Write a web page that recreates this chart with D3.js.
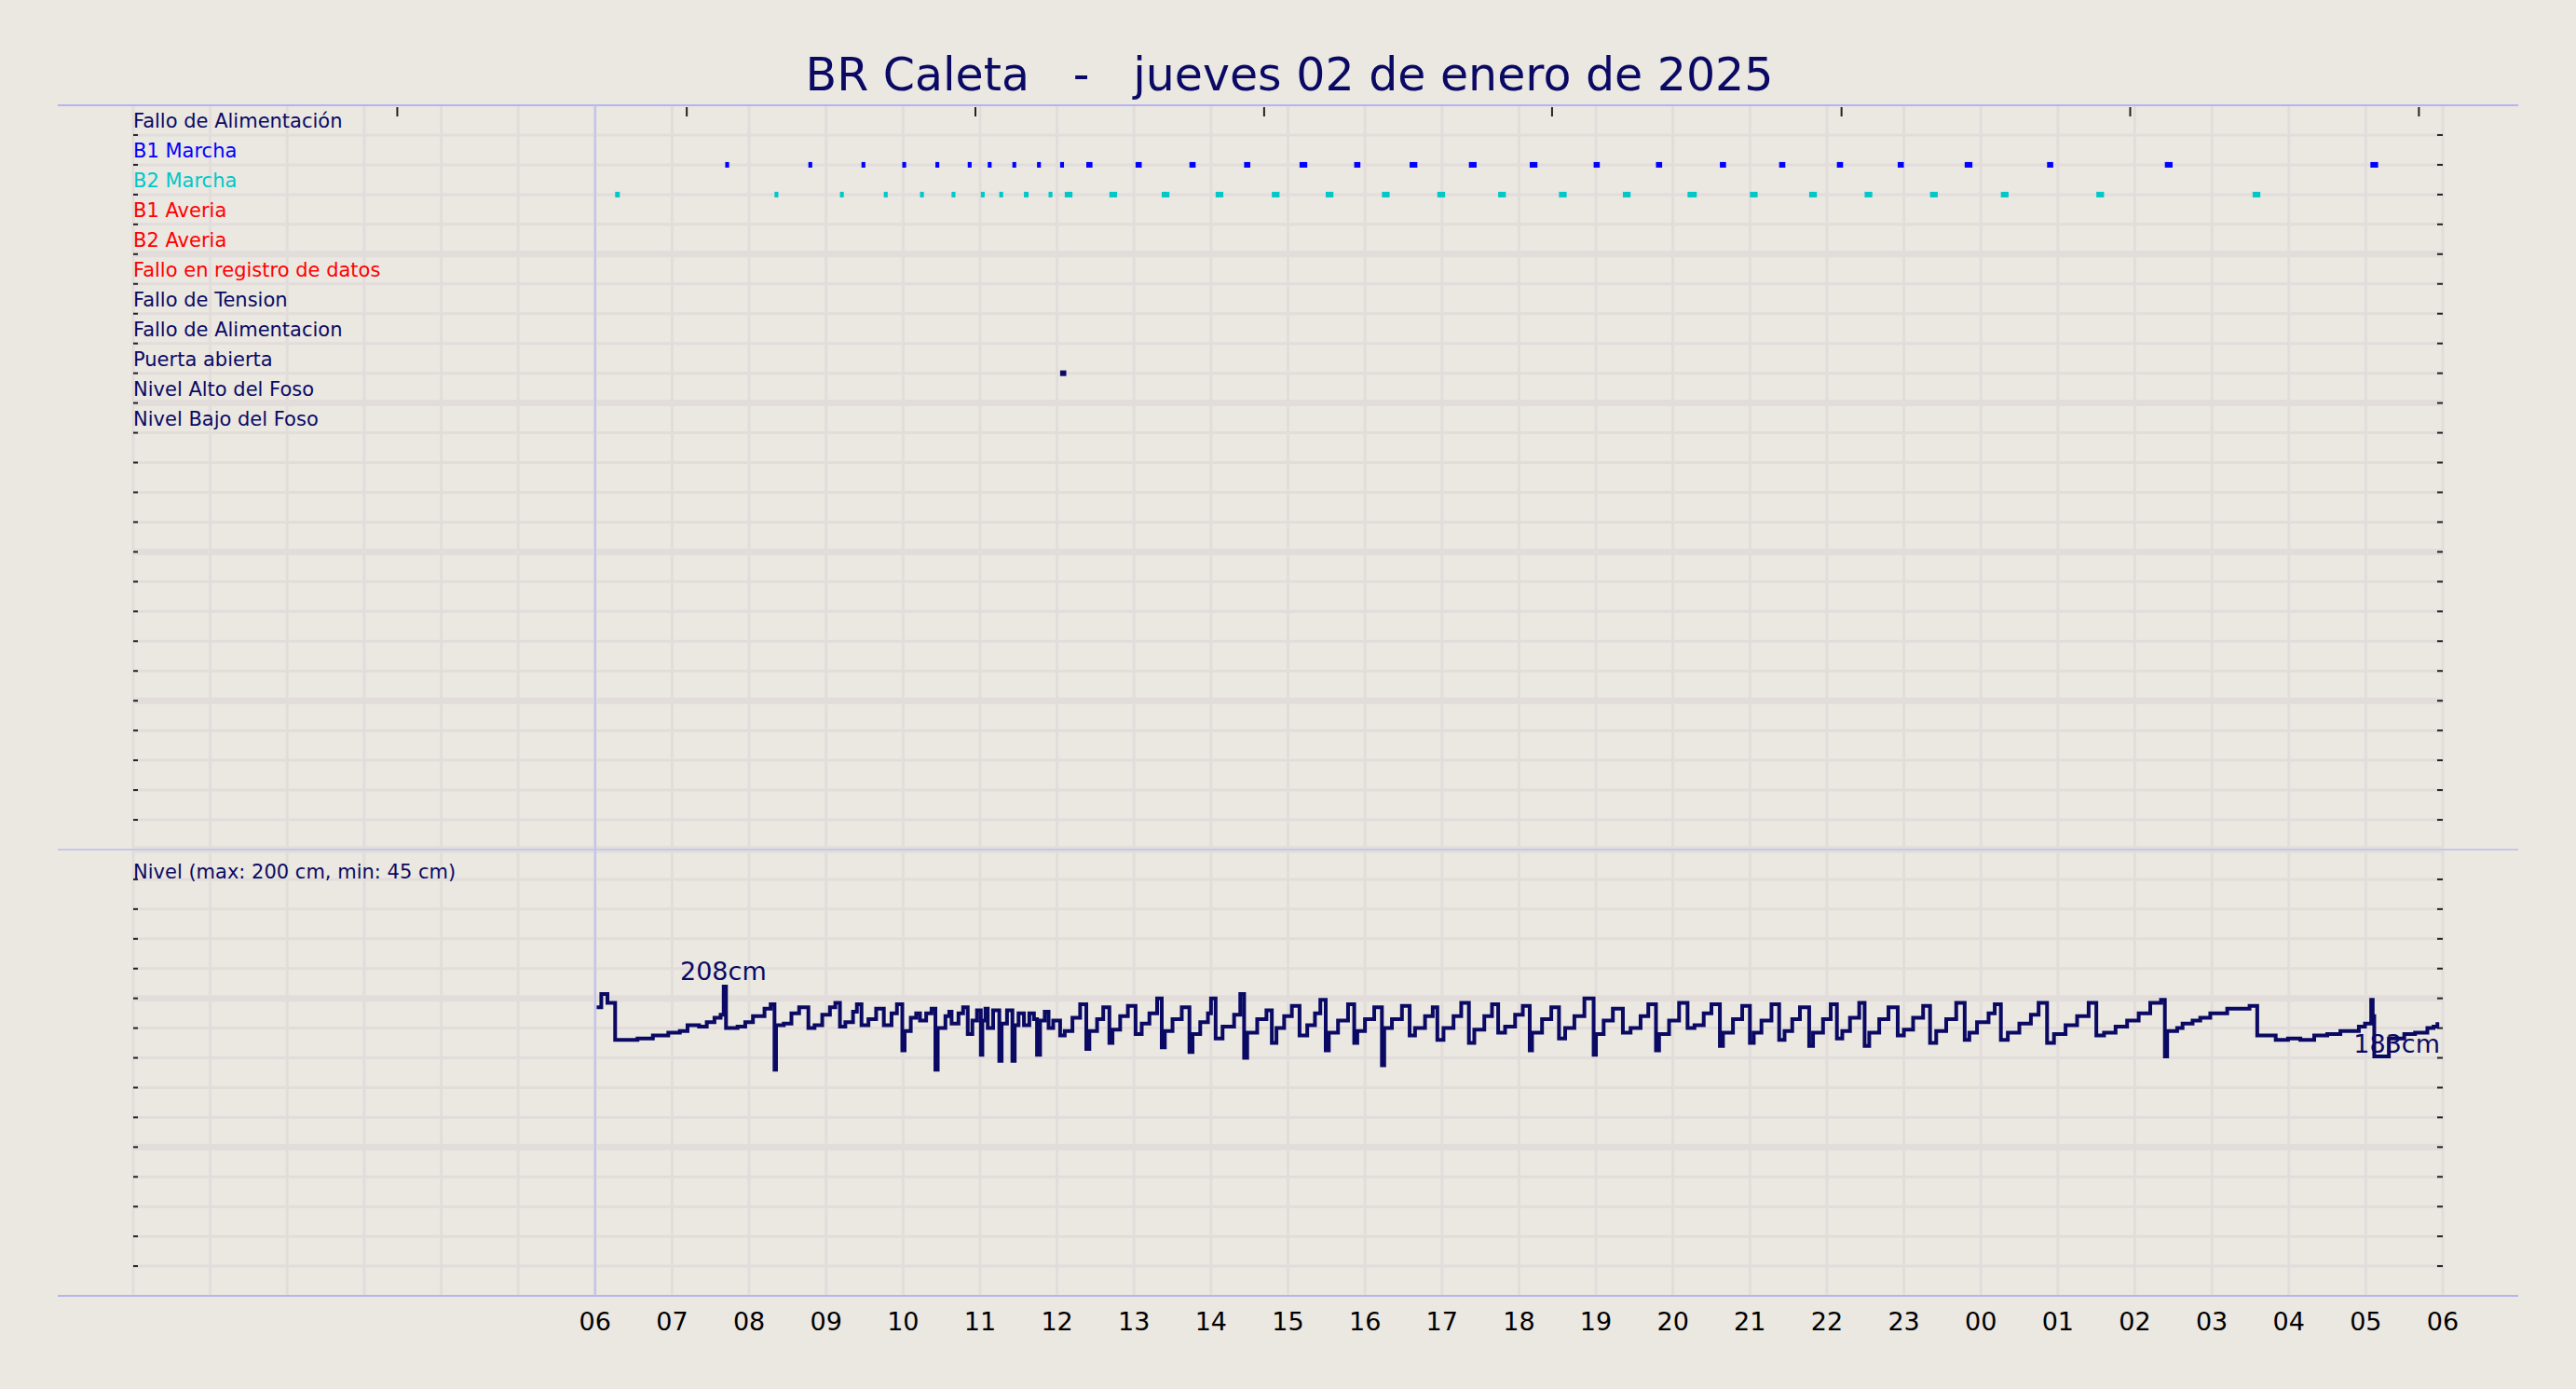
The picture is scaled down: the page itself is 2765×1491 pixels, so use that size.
<!DOCTYPE html>
<html><head><meta charset="utf-8">
<script src="https://cdn.jsdelivr.net/npm/d3@7"></script>
<style>body{margin:0;background:#ebe7e1}svg{display:block}text{font-family:"DejaVu Sans",sans-serif}</style>
</head><body>
<script>
const title = "BR Caleta   -   jueves 02 de enero de 2025";
const rowLabels = ["Fallo de Alimentación","B1 Marcha","B2 Marcha","B1 Averia","B2 Averia","Fallo en registro de datos","Fallo de Tension","Fallo de Alimentacion","Puerta abierta","Nivel Alto del Foso","Nivel Bajo del Foso"];
const rowColors = ["#0a0a64","#0000ff","#00c8c8","#ff0000","#ff0000","#ff0000","#0a0a64","#0a0a64","#0a0a64","#0a0a64","#0a0a64"];
// hours after 06:00
const b1Starts = [1.69,2.77,3.46,3.99,4.42,4.84,5.10,5.42,5.74,6.04,6.38,7.02,7.72,8.43,9.15,9.86,10.58,11.35,12.14,12.97,13.78,14.61,15.38,16.13,16.92,17.79,18.86,20.39,23.06];
const b1Dur    = [0.05,0.05,0.05,0.05,0.05,0.05,0.05,0.05,0.05,0.05,0.08,0.08,0.08,0.08,0.1,0.08,0.1,0.1,0.1,0.08,0.08,0.08,0.08,0.08,0.08,0.1,0.08,0.1,0.1];
const b2Starts = [0.26,2.33,3.18,3.75,4.22,4.63,5.01,5.25,5.57,5.89,6.10,6.68,7.36,8.06,8.79,9.49,10.22,10.94,11.73,12.52,13.35,14.19,15.0,15.77,16.49,17.34,18.26,19.50,21.53];
const b2Dur    = [0.06,0.05,0.05,0.05,0.05,0.05,0.05,0.05,0.06,0.05,0.1,0.1,0.1,0.1,0.1,0.1,0.1,0.1,0.1,0.1,0.1,0.12,0.1,0.1,0.1,0.1,0.1,0.1,0.1];
const doorStarts = [6.04];
const doorDur = [0.08];
const levelHours = [0.02,0.08,0.16,0.26,0.55,0.75,0.95,1.1,1.2,1.35,1.45,1.55,1.63,1.67,1.70,1.85,1.95,2.05,2.2,2.28,2.33,2.35,2.45,2.55,2.65,2.77,2.85,2.95,3.05,3.12,3.18,3.25,3.35,3.4,3.46,3.55,3.65,3.75,3.85,3.92,3.99,4.02,4.1,4.17,4.22,4.3,4.37,4.42,4.45,4.55,4.6,4.63,4.72,4.78,4.84,4.9,4.96,5.01,5.03,5.07,5.10,5.17,5.25,5.28,5.35,5.42,5.45,5.5,5.57,5.64,5.7,5.74,5.78,5.84,5.89,5.95,6.04,6.1,6.2,6.3,6.38,6.42,6.52,6.6,6.68,6.72,6.82,6.92,7.02,7.1,7.2,7.3,7.36,7.4,7.5,7.62,7.72,7.76,7.86,7.96,8.0,8.06,8.15,8.3,8.38,8.43,8.47,8.6,8.72,8.79,8.85,8.95,9.05,9.15,9.25,9.35,9.42,9.49,9.53,9.65,9.78,9.86,9.9,10.0,10.12,10.22,10.25,10.35,10.48,10.58,10.65,10.78,10.88,10.94,11.02,11.15,11.25,11.35,11.42,11.55,11.65,11.73,11.82,11.95,12.05,12.14,12.17,12.3,12.42,12.52,12.6,12.72,12.85,12.97,13.0,13.1,13.22,13.35,13.45,13.58,13.68,13.78,13.82,13.95,14.08,14.19,14.28,14.4,14.5,14.61,14.65,14.78,14.9,15.0,15.05,15.15,15.28,15.38,15.45,15.55,15.65,15.77,15.82,15.95,16.05,16.13,16.2,16.3,16.42,16.49,16.55,16.68,16.8,16.92,17.0,17.12,17.25,17.34,17.42,17.55,17.68,17.79,17.85,17.95,18.1,18.18,18.26,18.35,18.5,18.65,18.75,18.86,18.95,19.1,19.25,19.4,19.5,19.6,19.75,19.9,20.05,20.2,20.34,20.39,20.42,20.55,20.62,20.75,20.85,20.98,21.2,21.49,21.59,21.83,21.99,22.15,22.33,22.5,22.67,22.91,22.99,23.07,23.09,23.11,23.3,23.5,23.64,23.8,23.88,23.93];
const levelValues = [194,203,197,172,173,175,177,178,182,181,184,187,189,208,180,181,184,188,193,196,152,182,183,190,194,180,182,189,194,197,181,184,191,196,182,186,193,182,190,196,165,178,187,190,185,190,193,152,180,188,191,183,190,194,176,185,192,162,185,193,180,192,158,183,192,158,182,190,182,190,186,162,185,191,180,185,175,178,187,196,166,178,186,194,170,179,188,195,176,183,190,200,167,178,186,194,164,176,184,190,200,173,181,189,203,160,177,186,192,170,180,188,195,175,182,190,199,165,177,185,196,170,178,186,194,155,180,186,195,175,180,188,194,172,180,188,197,170,179,188,196,177,181,189,195,165,177,186,194,173,180,188,200,162,176,185,193,177,180,188,196,165,176,185,197,180,182,190,196,168,177,186,195,170,177,185,196,172,178,186,194,168,177,186,196,173,178,187,197,168,177,186,194,175,179,187,195,170,178,186,197,172,177,184,190,196,172,177,183,189,197,170,176,182,188,197,175,177,181,185,190,197,199,161,178,180,183,185,187,190,193,195,175,172,173,172,175,176,178,181,183,199,188,161,173,176,177,180,181,184,184];
const xTickHours = d3.range(0,25);
const topTickHours = [-2.57,1.19,4.94,8.69,12.43,16.19,19.94,23.69];
const maxLabel = "208cm", lastLabel = "183cm";
const nivelLabel = "Nivel (max: 200 cm, min: 45 cm)";

const W=2765,H=1491, L=143, R=2622, T=113, MID=912, B=1391;
const navy="#0a0a64", grid="#e2dddb";
const svg=d3.select("body").append("svg").attr("width",W).attr("height",H);
svg.append("rect").attr("width",W).attr("height",H).attr("fill","#ebe7e1");
const x=d3.scaleLinear().domain([-6,24]).range([L,R]);
const nRows=25;
const yRow=d3.scaleLinear().domain([0,nRows]).range([T,MID]);
const yLev=d3.scaleLinear().domain([0,300]).range([B,MID]);

// vertical grid
svg.append("g").selectAll("line").data(d3.range(-6,25)).join("line")
 .attr("x1",d=>x(d)).attr("x2",d=>x(d)).attr("y1",T).attr("y2",B)
 .attr("stroke",grid).attr("stroke-width",3);
// row grid
svg.append("g").selectAll("line").data(d3.range(1,nRows+1)).join("line")
 .attr("x1",L).attr("x2",R).attr("y1",d=>yRow(d)).attr("y2",d=>yRow(d))
 .attr("stroke",grid).attr("stroke-width",d=>d%5===0?7:3);
svg.append("g").selectAll("line").data(d3.range(20,301,20)).join("line")
 .attr("x1",L).attr("x2",R).attr("y1",d=>yLev(d)).attr("y2",d=>yLev(d))
 .attr("stroke",grid).attr("stroke-width",d=>d%100===0?7:3);
// side ticks
const rowTicks=d3.range(1,nRows+1).map(d=>yRow(d)).concat(d3.range(20,300,20).map(d=>yLev(d)));
svg.append("g").selectAll("line").data(rowTicks).join("line")
 .attr("x1",R-6).attr("x2",R).attr("y1",d=>d).attr("y2",d=>d).attr("stroke","#222").attr("stroke-width",2);
svg.append("g").selectAll("line").data(rowTicks).join("line")
 .attr("x1",L).attr("x2",L+5).attr("y1",d=>d).attr("y2",d=>d).attr("stroke","#222").attr("stroke-width",2);
// frame lines
svg.append("line").attr("x1",62).attr("x2",2703).attr("y1",T).attr("y2",T).attr("stroke","#b4b4f0").attr("stroke-width",2);
svg.append("line").attr("x1",62).attr("x2",2703).attr("y1",MID).attr("y2",MID).attr("stroke","#c8c8e6").attr("stroke-width",2);
svg.append("line").attr("x1",62).attr("x2",2703).attr("y1",B).attr("y2",B).attr("stroke","#b4b4f0").attr("stroke-width",2);
svg.append("line").attr("x1",x(0)).attr("x2",x(0)).attr("y1",T).attr("y2",B).attr("stroke","#c0c0ee").attr("stroke-width",2);
svg.append("g").selectAll("line").data(topTickHours).join("line")
 .attr("x1",d=>x(d)).attr("x2",d=>x(d)).attr("y1",T+2).attr("y2",T+12).attr("stroke","#222").attr("stroke-width",2);
// title
svg.append("text").attr("x",1384).attr("y",97).attr("text-anchor","middle").attr("font-size",49).attr("fill",navy).style("white-space","pre").text(title);
// row labels
svg.append("g").selectAll("text").data(rowLabels).join("text")
 .attr("x",L).attr("y",(d,i)=>yRow(i+0.5)+8).attr("font-size",21).attr("fill",(d,i)=>rowColors[i]).text(d=>d);
// events
function events(starts,durs,row,color){
 svg.append("g").selectAll("rect").data(starts).join("rect")
  .attr("x",d=>x(d)).attr("width",(d,i)=>Math.max(4,x(d+durs[i])-x(d)))
  .attr("y",yRow(row)-3).attr("height",6).attr("fill",color);
}
events(b1Starts,b1Dur,2,"#0000ff");
events(b2Starts,b2Dur,3,"#00c8c8");
events(doorStarts,doorDur,9,navy);
// level
svg.append("text").attr("x",L).attr("y",943).attr("font-size",21).attr("fill",navy).text(nivelLabel);
const pts=levelHours.map((h,i)=>[h,levelValues[i]]);
svg.append("path").datum(pts).attr("fill","none").attr("stroke",navy).attr("stroke-width",4)
 .attr("d",d3.line().x(d=>x(d[0])).y(d=>yLev(d[1])).curve(d3.curveStepAfter));
svg.append("text").attr("x",730).attr("y",1052).attr("font-size",27).attr("fill",navy).text(maxLabel);
svg.append("text").attr("x",2619).attr("y",1130).attr("text-anchor","end").attr("font-size",27).attr("fill",navy).text(lastLabel);
// x axis
svg.append("g").selectAll("text").data(xTickHours).join("text")
 .attr("x",d=>x(d)).attr("y",1428).attr("text-anchor","middle").attr("font-size",27).attr("fill","#000")
 .text(d=>String((6+d)%24).padStart(2,"0"));
</script>
</body></html>
